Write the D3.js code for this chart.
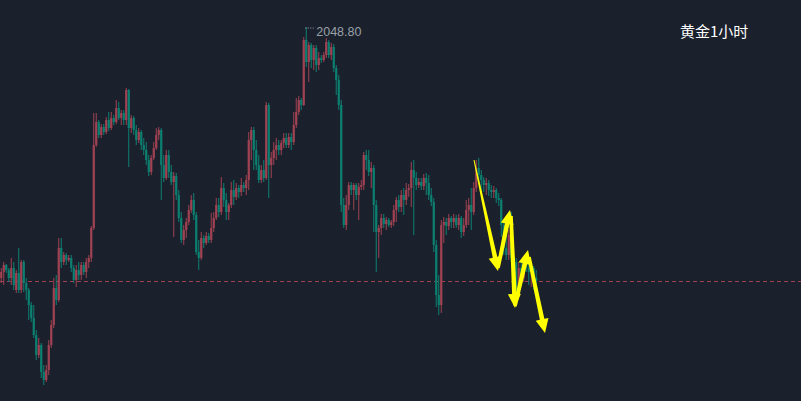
<!DOCTYPE html>
<html><head><meta charset="utf-8">
<script src="https://cdn.jsdelivr.net/npm/d3@7/dist/d3.min.js"></script>
<style>html,body{margin:0;padding:0;background:#1b202d;overflow:hidden}</style>
</head><body><svg id="c" width="801" height="401"></svg>
<script>
const title = "黄金1小时";
const opens = [2023.7,2024.3,2025.0,2024.5,2023.7,2024.7,2022.5,2024.2,2022.5,2025.3,2023.2,2022.5,2021.0,2019.7,2018.0,2016.0,2017.0,2014.3,2013.5,2014.5,2017.0,2019.0,2022.7,2021.5,2026.7,2025.3,2026.0,2025.5,2025.7,2024.7,2023.5,2024.5,2024.0,2025.0,2024.3,2025.3,2025.7,2028.7,2037.0,2039.3,2038.0,2038.8,2038.3,2039.5,2038.7,2039.7,2039.3,2040.7,2039.7,2040.2,2039.5,2042.5,2038.7,2039.7,2038.5,2037.5,2038.3,2037.0,2036.5,2035.5,2034.3,2035.7,2036.7,2038.0,2038.5,2035.0,2033.7,2036.0,2034.3,2033.3,2033.9,2032.0,2029.7,2027.5,2028.5,2029.3,2030.5,2031.5,2030.0,2026.3,2025.7,2027.7,2027.2,2027.9,2027.5,2028.7,2029.7,2031.0,2030.3,2032.7,2031.5,2030.3,2031.0,2032.5,2031.8,2032.7,2032.3,2033.0,2032.7,2033.5,2037.5,2038.5,2036.5,2035.0,2033.5,2034.5,2033.7,2041.0,2035.0,2035.7,2036.5,2037.0,2036.5,2037.2,2037.7,2037.0,2037.8,2037.3,2039.0,2040.3,2041.5,2041.0,2047.5,2045.3,2047.0,2045.5,2046.7,2045.0,2045.7,2045.5,2046.0,2047.3,2046.0,2046.8,2044.7,2043.5,2041.0,2031.0,2029.0,2031.0,2033.0,2032.5,2033.0,2032.0,2032.8,2033.0,2036.0,2035.5,2034.3,2034.7,2031.0,2028.3,2028.7,2029.7,2029.1,2029.5,2029.0,2029.3,2030.5,2031.5,2030.8,2032.0,2031.5,2032.5,2032.7,2034.5,2033.7,2033.0,2033.3,2032.9,2033.7,2033.2,2032.0,2031.3,2027.0,2022.0,2021.0,2029.0,2029.3,2028.9,2029.7,2029.3,2029.7,2029.0,2029.7,2028.3,2029.0,2030.5,2031.0,2030.3,2032.7,2034.7,2034.0,2033.5,2033.0,2033.2,2032.5,2032.3,2032.5,2031.7,2031.5,2029.0,2026.7,2026.0,2028.0,2025.7,2025.3,2022.5,2024.7,2023.7,2025.3,2024.7,2024.3,2024.7,2023.7];
const highs = [2024.7,2025.3,2025.1,2024.7,2025.7,2025.3,2024.5,2026.7,2025.5,2025.5,2023.7,2022.7,2021.3,2021.0,2018.5,2017.7,2017.2,2015.0,2015.0,2017.5,2019.5,2023.7,2024.0,2027.7,2027.7,2026.3,2026.2,2026.0,2026.0,2025.0,2025.0,2025.3,2025.3,2025.3,2025.7,2026.0,2028.9,2040.2,2040.2,2039.5,2039.1,2039.1,2039.8,2040.3,2040.3,2040.0,2041.5,2041.3,2040.5,2040.5,2042.7,2042.6,2040.0,2039.9,2039.0,2038.7,2038.5,2037.7,2037.3,2036.0,2036.0,2037.3,2038.7,2038.8,2038.7,2036.0,2036.5,2036.5,2035.0,2034.3,2034.2,2032.5,2030.3,2029.0,2029.7,2031.0,2032.0,2032.2,2030.3,2027.5,2028.3,2028.0,2028.3,2028.2,2030.2,2030.3,2031.7,2031.7,2033.8,2033.2,2032.2,2031.2,2033.3,2033.5,2033.2,2033.0,2033.7,2033.3,2034.0,2038.3,2038.8,2038.8,2037.5,2036.0,2035.0,2035.5,2041.3,2041.2,2036.3,2037.3,2037.7,2037.5,2037.5,2038.2,2038.2,2038.2,2038.2,2040.3,2041.7,2041.9,2041.7,2047.8,2048.8,2047.3,2047.2,2047.0,2047.0,2046.3,2046.0,2046.3,2047.7,2047.5,2047.2,2047.1,2045.0,2044.0,2041.5,2031.7,2032.0,2033.3,2033.3,2033.2,2033.2,2033.2,2033.5,2036.3,2036.5,2036.5,2035.3,2035.0,2031.5,2029.0,2030.1,2030.1,2029.8,2029.7,2029.5,2031.0,2031.8,2032.0,2032.5,2032.7,2033.2,2033.1,2035.3,2035.5,2034.3,2033.7,2033.7,2034.1,2034.2,2034.0,2032.7,2031.7,2027.5,2024.0,2029.5,2029.8,2029.7,2030.1,2029.9,2030.1,2030.0,2030.1,2029.9,2029.7,2031.5,2031.7,2032.7,2033.3,2035.5,2035.7,2034.5,2033.8,2033.7,2033.5,2033.0,2032.9,2032.7,2032.2,2031.7,2029.5,2028.5,2028.5,2030.3,2026.0,2025.7,2025.3,2025.5,2025.7,2025.8,2025.3,2025.3,2024.9,2024.5];
const lows = [2023.2,2023.0,2024.2,2023.3,2023.0,2022.5,2022.2,2022.2,2022.2,2022.3,2021.5,2019.5,2019.3,2017.7,2015.5,2015.7,2013.7,2013.0,2013.3,2014.0,2016.7,2018.7,2021.0,2021.3,2024.7,2025.0,2025.0,2025.3,2024.3,2023.2,2022.8,2023.5,2023.5,2024.0,2023.7,2024.7,2025.3,2028.5,2036.8,2037.7,2037.7,2038.0,2038.1,2038.4,2038.5,2039.0,2039.1,2039.5,2039.0,2039.0,2039.0,2034.8,2038.2,2038.0,2037.0,2037.2,2036.5,2036.0,2035.0,2033.9,2034.0,2035.5,2036.5,2037.5,2031.5,2033.3,2033.5,2033.7,2033.0,2027.8,2031.5,2029.3,2027.2,2027.0,2027.7,2029.0,2030.2,2029.5,2026.0,2024.5,2025.5,2026.7,2027.0,2027.2,2027.2,2028.3,2029.5,2029.8,2030.0,2030.8,2029.5,2029.5,2030.7,2031.0,2031.5,2031.7,2031.9,2032.3,2032.0,2032.5,2035.5,2034.5,2034.5,2033.2,2033.2,2033.3,2033.5,2031.7,2033.7,2035.0,2035.5,2036.0,2036.0,2036.7,2036.7,2036.7,2036.5,2037.0,2038.7,2040.0,2040.5,2040.9,2044.8,2043.3,2044.7,2044.5,2044.3,2044.5,2045.2,2045.3,2045.7,2045.7,2045.5,2044.3,2042.0,2040.5,2030.3,2028.7,2028.5,2030.5,2032.0,2030.5,2031.5,2029.5,2032.5,2032.5,2034.5,2033.9,2032.7,2028.3,2024.3,2025.7,2028.0,2028.7,2028.5,2028.8,2028.7,2028.9,2029.3,2030.3,2030.3,2030.0,2031.0,2031.8,2030.8,2028.0,2032.5,2032.7,2032.5,2032.5,2032.0,2031.5,2030.9,2026.3,2020.8,2020.0,2020.2,2027.2,2028.0,2028.5,2028.7,2028.7,2028.7,2028.5,2027.7,2027.9,2028.7,2029.0,2028.5,2030.0,2032.3,2033.3,2032.2,2032.3,2032.0,2031.9,2031.7,2031.7,2031.2,2030.9,2027.8,2026.0,2025.5,2025.5,2025.3,2024.3,2021.5,2022.0,2023.3,2023.3,2024.3,2023.0,2022.8,2022.5,2022.5];
const closes = [2024.3,2025.0,2024.5,2023.7,2024.7,2023.0,2024.2,2022.5,2025.3,2023.2,2022.5,2021.0,2019.7,2018.0,2016.0,2017.0,2014.3,2013.5,2014.5,2017.0,2019.0,2022.7,2021.5,2026.7,2025.3,2026.0,2025.5,2025.7,2024.7,2023.5,2024.5,2024.0,2025.0,2024.3,2025.3,2025.7,2028.7,2037.0,2039.3,2038.0,2038.8,2038.3,2039.5,2038.7,2039.7,2039.3,2040.7,2039.7,2040.2,2039.5,2042.5,2038.7,2039.7,2038.5,2037.5,2038.3,2037.0,2036.5,2035.5,2034.3,2035.7,2036.7,2038.0,2038.5,2035.0,2033.7,2036.0,2034.3,2033.3,2033.9,2032.0,2029.7,2027.5,2028.5,2029.3,2030.5,2031.5,2030.0,2026.3,2025.7,2027.7,2027.2,2027.9,2027.5,2028.7,2029.7,2031.0,2030.3,2032.7,2031.5,2030.3,2031.0,2032.5,2031.8,2032.7,2032.3,2033.0,2032.7,2033.5,2037.5,2038.5,2036.5,2035.0,2033.5,2034.5,2033.7,2041.0,2035.0,2035.7,2036.5,2037.0,2036.5,2037.2,2037.7,2037.0,2037.8,2037.3,2039.0,2040.3,2041.5,2041.0,2047.5,2045.3,2047.0,2045.5,2046.7,2045.0,2045.7,2045.5,2046.0,2047.3,2046.0,2046.8,2044.7,2043.5,2041.0,2031.0,2029.0,2031.0,2033.0,2032.5,2033.0,2032.0,2032.8,2033.0,2036.0,2035.5,2034.3,2034.7,2031.0,2028.3,2028.7,2029.7,2029.1,2029.5,2029.0,2029.3,2030.5,2031.5,2030.8,2032.0,2031.5,2032.5,2032.7,2034.5,2033.7,2033.0,2033.3,2032.9,2033.7,2033.2,2032.0,2031.3,2027.0,2022.0,2021.0,2029.0,2029.3,2028.9,2029.7,2029.3,2029.7,2029.0,2029.7,2028.3,2029.0,2030.5,2031.0,2030.3,2032.7,2034.7,2034.0,2033.5,2033.0,2033.2,2032.5,2032.3,2032.5,2031.7,2031.5,2029.0,2026.7,2026.0,2028.0,2025.7,2025.3,2022.5,2024.7,2023.7,2025.3,2024.7,2024.3,2024.7,2023.7,2023.4];
// annotation arrows: from (candle index, price) to (candle index, price)
const arrowStartIdx  = [189.1, 198.7, 203.9, 205.5, 211.1];
const arrowStartPx   = [2035.5, 2024.7, 2029.9, 2020.9, 2025.8];
const arrowEndIdx    = [198.7, 203.5, 205.5, 210.7, 217.5];
const arrowEndPx     = [2024.4, 2030.5, 2020.7, 2026.5, 2018.2];

const W = 801, H = 401, N = closes.length;
const svg = d3.select("#c");
svg.append("rect").attr("width", W).attr("height", H).attr("fill", "#1b202d");

const x = d3.scaleLinear().domain([0, N - 1]).range([1.25, 536.25]);
const y = d3.scaleLinear().domain([d3.min(lows), d3.max(highs)]).range([385, 27]);

const UP = "#a04252", DOWN = "#0c8070";
const data = d3.range(N).map(i => ({i, o: opens[i], h: highs[i], l: lows[i], c: closes[i]}));

// last price dashed line
const ly = Math.round(y(closes[N - 1])) + 0.5;
svg.append("line").attr("x1", 0).attr("x2", W).attr("y1", ly).attr("y2", ly)
  .attr("stroke", "#a3404f").attr("stroke-width", 1).attr("stroke-dasharray", "4,3")
  .attr("shape-rendering", "crispEdges");

const g = svg.append("g");
g.selectAll("line.w").data(data).join("line").attr("class", "w")
  .attr("x1", d => x(d.i)).attr("x2", d => x(d.i))
  .attr("y1", d => y(d.h)).attr("y2", d => y(d.l))
  .attr("stroke", d => d.c >= d.o ? UP : DOWN).attr("stroke-width", 1);
g.selectAll("rect.b").data(data).join("rect").attr("class", "b")
  .attr("x", d => x(d.i) - 1.1).attr("width", 2.2)
  .attr("y", d => y(Math.max(d.o, d.c)))
  .attr("height", d => Math.max(1, Math.abs(y(d.o) - y(d.c))))
  .attr("fill", d => d.c >= d.o ? UP : DOWN);

// high marker
const hi = d3.maxIndex(highs);
const hx = x(hi), hy = y(highs[hi]);
svg.append("line").attr("x1", hx - 1).attr("x2", hx + 9).attr("y1", hy + 1).attr("y2", hy + 1)
  .attr("stroke", "#9aa0a8").attr("stroke-width", 1).attr("stroke-dasharray", "1,1.5");
svg.append("text").attr("x", hx + 10).attr("y", hy + 8.5).text(d3.format(".2f")(highs[hi]))
  .attr("fill", "#9aa0a8").attr("font-size", 12.5).attr("font-family", "Liberation Sans, Arial, sans-serif");

// title
svg.append("text").attr("x", 680).attr("y", 37).text(title)
  .attr("fill", "#ffffff").attr("font-size", 15).attr("font-family", "Noto Sans CJK SC, sans-serif");

// arrows
const ag = svg.append("g");
arrowStartIdx.forEach((_, k) => {
  const x0 = x(arrowStartIdx[k]), y0 = y(arrowStartPx[k]);
  const x1 = x(arrowEndIdx[k]), y1 = y(arrowEndPx[k]);
  const dx = x1 - x0, dy = y1 - y0, len = Math.hypot(dx, dy);
  const ux = dx / len, uy = dy / len, px = -uy, py = ux;
  const headL = 14, headW = 6.5;
  const bx = x1 - ux * headL, by = y1 - uy * headL;
  const w0 = k === 0 ? 0.5 : 1.8, w1 = 2.3;
  const pts = [
    [x0 + px * w0, y0 + py * w0], [bx + px * w1, by + py * w1],
    [bx + px * headW, by + py * headW], [x1, y1],
    [bx - px * headW, by - py * headW], [bx - px * w1, by - py * w1],
    [x0 - px * w0, y0 - py * w0]
  ];
  ag.append("polygon").attr("points", pts.map(p => p.join(",")).join(" ")).attr("fill", "#ffff00");
});
</script></body></html>
